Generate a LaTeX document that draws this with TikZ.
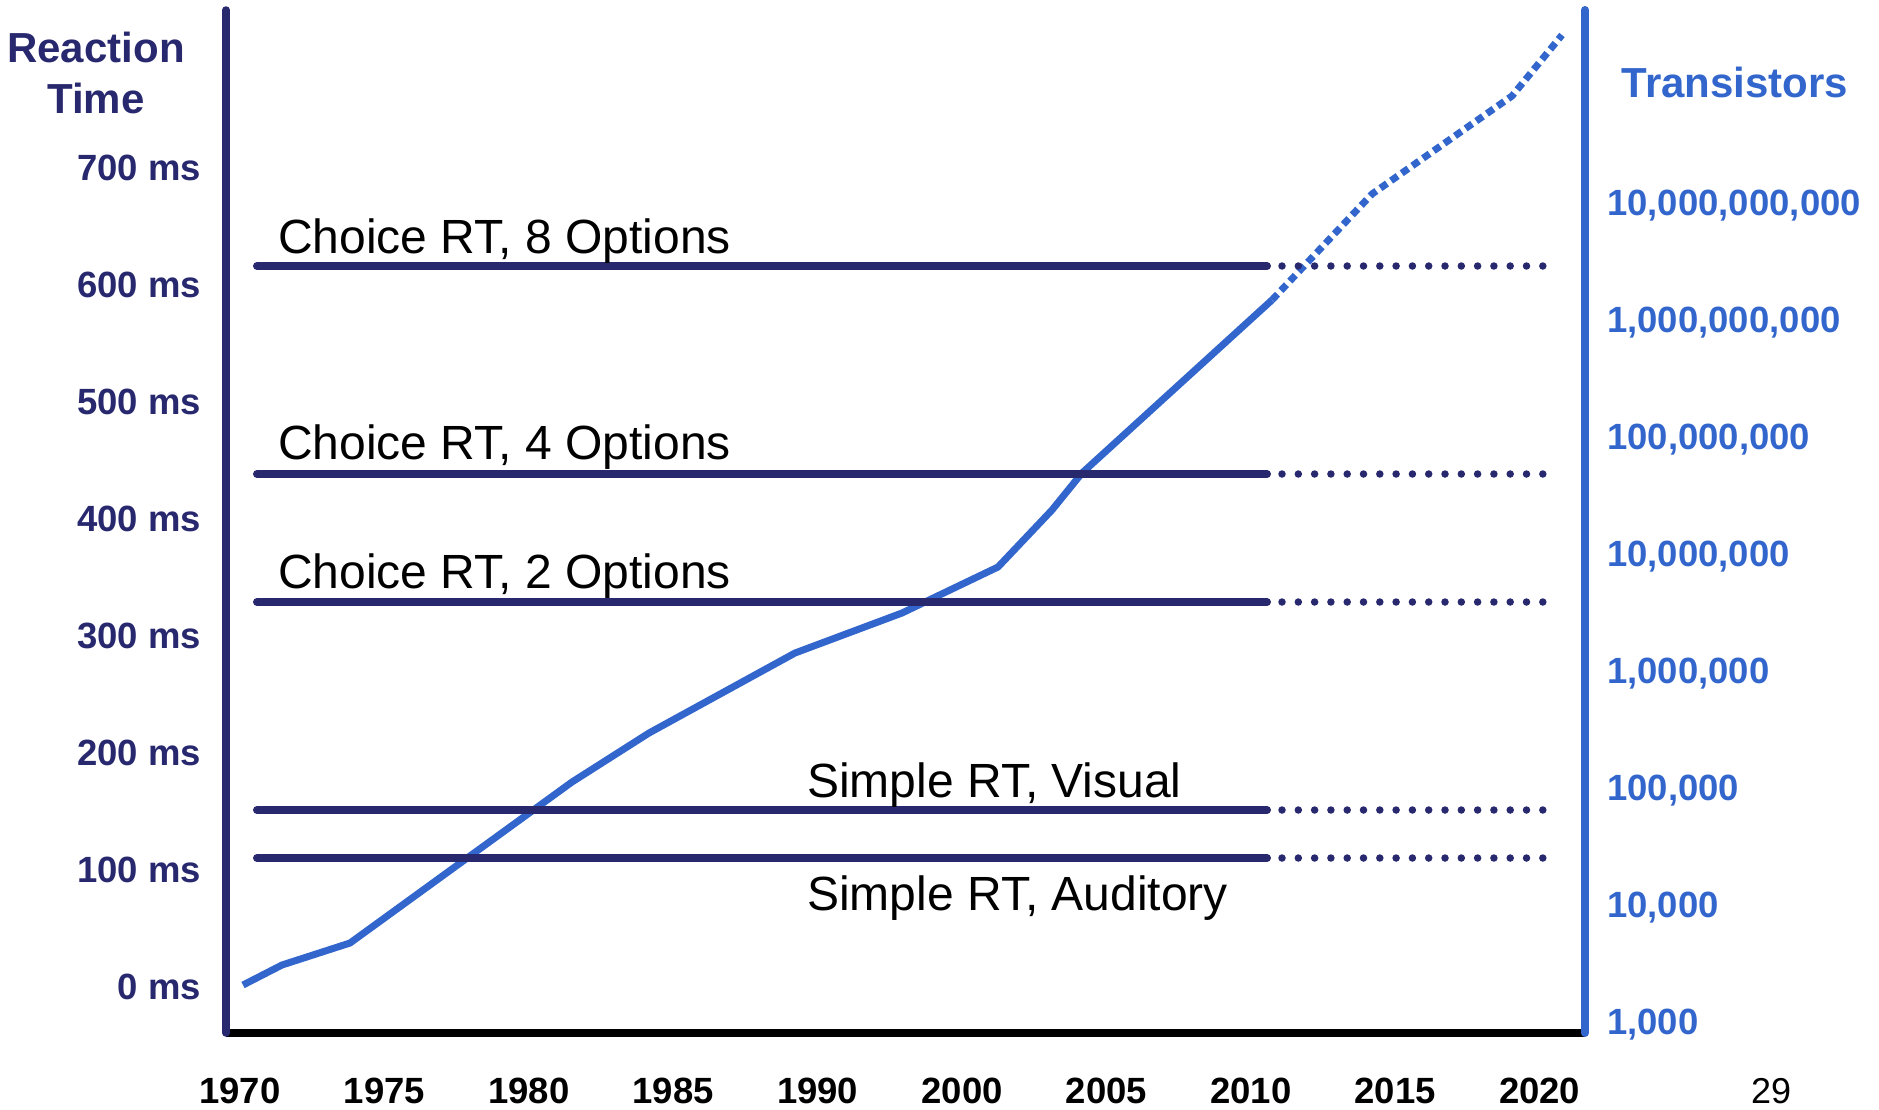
\documentclass[tikz,border=0pt]{standalone}
\usepackage{fontspec}
\setmainfont{Liberation Sans}
\usepackage{tikz}
\definecolor{rtnavy}{HTML}{28286F}
\definecolor{trblue}{HTML}{3366CC}

\begin{document}
\begin{tikzpicture}[x=1pt, y=-1pt, line join=round,
    rtline/.style={rtnavy, line width=8pt, line cap=round},
    rtdots/.style={rtnavy, line width=7.5pt, line cap=round, dash pattern=on 0pt off 16.3pt},
    rtlabel/.style={anchor=base west, inner sep=0pt, font=\fontsize{48}{58}\selectfont},
    ticklab/.style={inner sep=0pt, font=\bfseries\fontsize{36.5}{43}\selectfont}]

   \useasboundingbox (0,0) rectangle (1879,1109);

   \def\dy{117.14};

%transistor count
   \draw[trblue, line width=7pt] (243,985) -- (282,965) -- (350,943) -- (572,782) -- (649,733)
        -- (795,653) -- (902,613) -- (998,567) -- (1052,510) -- (1082,473) -- (1272,300);
   \draw[trblue, line width=7pt, dash pattern=on 8pt off 5pt] (1272,300) -- (1372,194) -- (1512,96) -- (1562,35);

%reaction times
   \foreach \y/\ly/\lx/\txt/\id in {{266/253/278/{Choice RT, 8 Options}/c8}, {474/459/278/{Choice RT, 4 Options}/c4},
        {602/588/278/{Choice RT, 2 Options}/c2}, {810/797/807/{Simple RT, Visual}/sv}, {858/910/807/{Simple RT, Auditory}/sa}}
   {
     \draw[rtline] (257,\y) -- (1267,\y);
     \draw[rtdots] (1282,\y) -- (1545,\y);
     \node[rtlabel] (\id) at (\lx,\ly) {\txt};
   }

%axes
   \draw[black, line width=7.5pt] (226,1033) -- (1585,1033);
   \draw[rtnavy, line width=7.5pt, line cap=round] (226,10) -- (226,1033);
   \draw[trblue, line width=8pt, line cap=round] (1585,10) -- (1585,1033);

   \node[align=center, inner sep=0pt, text=rtnavy, font=\bfseries\fontsize{42}{51}\selectfont] (rt) at (96,72.5) {Reaction\\Time};
   \node[anchor=base, inner sep=0pt, text=trblue, font=\bfseries\fontsize{42}{51}\selectfont] (tr) at (1735,97) {Transistors};

   \foreach \k in {0,...,7}
   {
     \pgfmathtruncatemacro\v{700-100*\k}
     \node[ticklab, anchor=base east, text=rtnavy] (ms\k) at (201, 180+\dy*\k) {\v\ ms};
   }

   \foreach \txt [count=\k from 0] in {{10,000,000,000}, {1,000,000,000}, {100,000,000}, {10,000,000},
        {1,000,000}, {100,000}, {10,000}, {1,000}}
     \node[ticklab, anchor=base west, text=trblue] (tc\k) at (1607, 215+\dy*\k) {\txt};

   \foreach \yr [count=\k from 0] in {1970,1975,1980,1985,1990,2000,2005,2010,2015,2020}
     \node[ticklab, anchor=base] (yr\yr) at (240+144.4*\k, 1103) {\yr};

   \node[anchor=base, inner sep=0pt, font=\fontsize{36}{43}\selectfont] (pg) at (1771,1103) {29};

\end{tikzpicture}
\end{document}
